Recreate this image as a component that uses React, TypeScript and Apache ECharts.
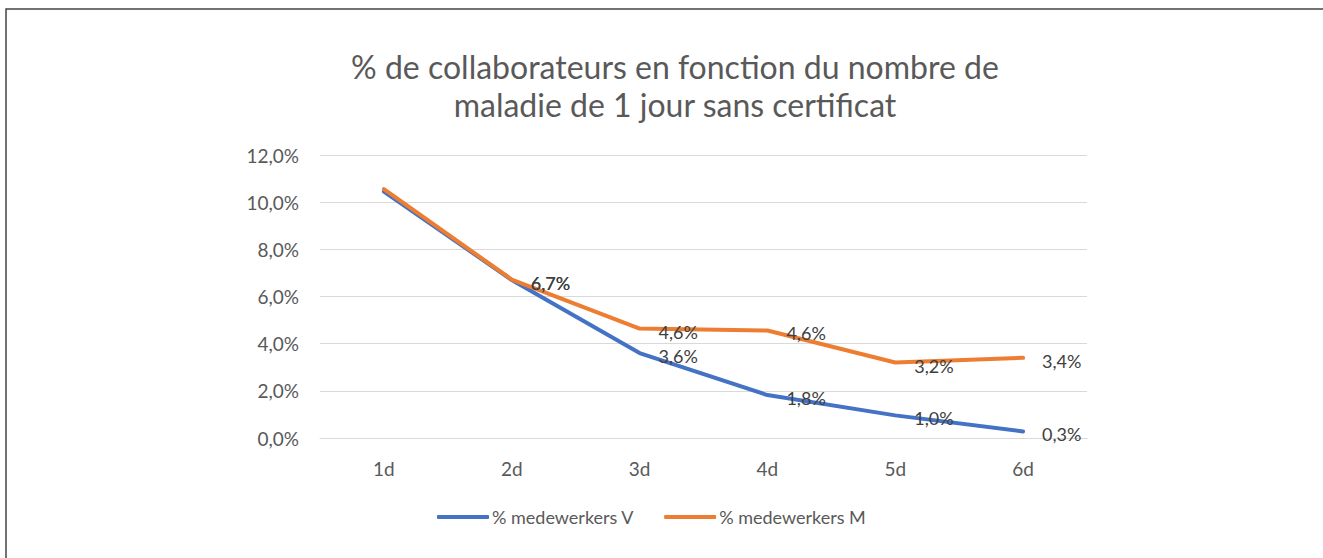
import React, { useEffect, useRef } from "react";
import * as echarts from "echarts";

const categories = ["1d", "2d", "3d", "4d", "5d", "6d"];
const seriesV = [10.45, 6.7, 3.6, 1.82, 0.96, 0.28];
const seriesM = [10.55, 6.72, 4.64, 4.56, 3.2, 3.4];
const yTicks = [0, 2, 4, 6, 8, 10, 12];
const titleLines = ["% de collaborateurs en fonction du nombre de", "maladie de 1 jour sans certificat"];
const seriesNames = ["% medewerkers V", "% medewerkers M"];

const FONT = "Lato, 'Open Sans', sans-serif";

function fmt(v: number) {
  return v.toFixed(1).replace(".", ",") + "%";
}

function buildData(values: number[]) {
  return values.map((v, i) => (i === 0 ? { value: v, label: { show: false } } : { value: v }));
}

export default function App() {
  const ref = useRef<HTMLDivElement>(null);
  useEffect(() => {
    if (!ref.current) return;
    const chart = echarts.init(ref.current, null, { renderer: "svg" });
    const labelCfg = {
      show: true,
      position: "right",
      distance: 19,
      offset: [0, 3],
      fontFamily: FONT,
      fontSize: 18,
      color: "#404040",
      formatter: (p: any) => fmt(p.value),
    };
    chart.setOption({
      animation: false,
      backgroundColor: "#ffffff",
      textStyle: { fontFamily: FONT },
      title: {
        text: titleLines.join("\n"),
        left: 670,
        top: 42,
        textAlign: "center",
        textStyle: { fontFamily: FONT, fontSize: 32, fontWeight: "normal", color: "#595959", lineHeight: 38 },
      },
      graphic: [
        {
          type: "rect",
          shape: { x: 6, y: 9, width: 1400, height: 700 },
          style: { fill: "none", stroke: "#444444", lineWidth: 1.5 },
          silent: true,
        },
      ],
      grid: { left: 320, right: 236, top: 155, bottom: 120 },
      legend: {
        top: 503,
        left: 432,
        itemWidth: 52,
        itemHeight: 4,
        itemGap: 30,
        icon: "roundRect",
        textStyle: { fontFamily: FONT, fontSize: 18, color: "#595959", padding: [0, 0, 0, -2] },
        data: seriesNames,
      },
      xAxis: {
        type: "category",
        data: categories,
        boundaryGap: true,
        axisLine: { show: true, lineStyle: { color: "#d9d9d9", width: 1 } },
        axisTick: { show: false },
        axisLabel: { fontFamily: FONT, fontSize: 19, color: "#595959", margin: 21 },
      },
      yAxis: {
        type: "value",
        min: yTicks[0],
        max: yTicks[yTicks.length - 1],
        interval: 2,
        axisLine: { show: false },
        axisTick: { show: false },
        splitLine: { lineStyle: { color: "#d9d9d9", width: 1 } },
        axisLabel: {
          fontFamily: FONT,
          fontSize: 19,
          color: "#595959",
          margin: 21,
          formatter: (v: number) => fmt(v),
        },
      },
      series: [
        {
          name: seriesNames[0],
          type: "line",
          data: buildData(seriesV),
          symbol: "circle",
          symbolSize: 0,
          showSymbol: true,
          lineStyle: { color: "#4472C4", width: 4, cap: "round", join: "round" },
          itemStyle: { color: "#4472C4" },
          label: labelCfg,
        },
        {
          name: seriesNames[1],
          type: "line",
          data: buildData(seriesM),
          symbol: "circle",
          symbolSize: 0,
          showSymbol: true,
          lineStyle: { color: "#ED7D31", width: 4, cap: "round", join: "round" },
          itemStyle: { color: "#ED7D31" },
          label: labelCfg,
        },
      ],
    });
    return () => chart.dispose();
  }, []);
  return (
    <div
      ref={ref}
      style={{ position: "fixed", left: 0, top: 0, width: 1323, height: 558, background: "#fff" }}
    />
  );
}
